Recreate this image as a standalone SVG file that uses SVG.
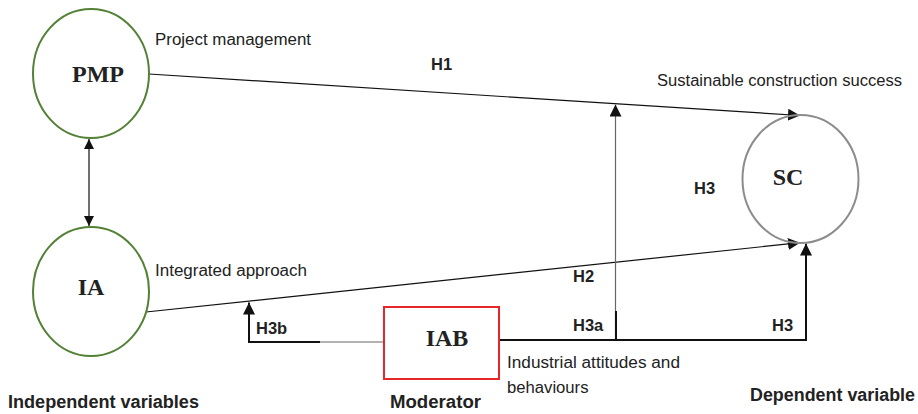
<svg xmlns="http://www.w3.org/2000/svg" width="918" height="414" viewBox="0 0 918 414">
<style>
.g{fill:none;stroke:#538135;stroke-width:2}
.s{fill:none;stroke:#8c8c8c;stroke-width:2}
.r{fill:none;stroke:#e8262a;stroke-width:2}
.n{font-family:"Liberation Serif",serif;font-weight:bold;font-size:24px;fill:#222;text-anchor:middle}
.d{font-family:"Liberation Sans",sans-serif;font-size:16px;fill:#222}
.h{font-family:"Liberation Sans",sans-serif;font-size:16.5px;font-weight:bold;fill:#222}
.b{font-family:"Liberation Sans",sans-serif;font-size:18px;font-weight:bold;fill:#222}
.l{fill:none;stroke:#111;stroke-width:1.2}
.k{fill:none;stroke:#111;stroke-width:2}
.v{fill:none;stroke:#666;stroke-width:1.2}
</style>
<defs>
<marker id="a" viewBox="0 0 10 10" refX="10" refY="5" markerWidth="10" markerHeight="10" markerUnits="userSpaceOnUse" orient="auto-start-reverse">
<path d="M0,0 L10,5 L0,10 z" fill="#111"/>
</marker>
<marker id="a2" viewBox="0 0 10 10" refX="10" refY="5" markerWidth="12" markerHeight="12" markerUnits="userSpaceOnUse" orient="auto">
<path d="M0,0 L10,5 L0,10 z" fill="#111"/>
</marker>
</defs>
<g id="connectors">
<line class="l" x1="89" y1="139" x2="89" y2="226" marker-start="url(#a)" marker-end="url(#a)"/>
<line class="l" x1="149" y1="74" x2="800" y2="115.5" marker-end="url(#a2)"/>
<line class="l" x1="146" y1="312" x2="800" y2="242.7" marker-end="url(#a2)"/>
<line class="v" x1="615.5" y1="340" x2="615.5" y2="104.5" marker-end="url(#a2)"/>
<line class="k" x1="616" y1="311" x2="616" y2="341"/>
<polyline class="k" points="320,342 249,342 249,302.5" marker-end="url(#a2)"/>
<line class="v" x1="320" y1="342" x2="384" y2="342"/>
<polyline class="k" points="500,340 806,340 806,243.5" marker-end="url(#a2)"/>
</g>
<g id="PMP">
<ellipse class="g" cx="91" cy="73.5" rx="58" ry="64.5"/>
<text class="n" x="98" y="82">PMP</text>
<text class="d" x="155" y="45" textLength="156" lengthAdjust="spacingAndGlyphs">Project management</text>
</g>
<g id="IA">
<ellipse class="g" cx="91" cy="291.5" rx="58" ry="64.5"/>
<text class="n" x="91" y="295">IA</text>
<text class="d" x="155" y="276" textLength="152" lengthAdjust="spacingAndGlyphs">Integrated approach</text>
</g>
<g id="SC">
<ellipse class="s" cx="800.5" cy="179" rx="58" ry="64"/>
<text class="n" x="788" y="185">SC</text>
<text class="d" x="657" y="86" textLength="245" lengthAdjust="spacingAndGlyphs">Sustainable construction success</text>
</g>
<g id="IAB">
<rect class="r" x="384" y="307" width="115" height="72"/>
<text class="n" x="447" y="345.5">IAB</text>
<text class="d" x="507" y="368" textLength="173" lengthAdjust="spacingAndGlyphs">Industrial attitudes and</text>
<text class="d" x="507" y="392.5" textLength="81.5" lengthAdjust="spacingAndGlyphs">behaviours</text>
</g>
<g id="labels">
<text class="h" x="431" y="70">H1</text>
<text class="h" x="694" y="194">H3</text>
<text class="h" x="573" y="282">H2</text>
<text class="h" x="256" y="334">H3b</text>
<text class="h" x="573" y="331">H3a</text>
<text class="h" x="772" y="331">H3</text>
<text class="b" x="8" y="408" textLength="191" lengthAdjust="spacingAndGlyphs">Independent variables</text>
<text class="b" x="390" y="408" textLength="91" lengthAdjust="spacingAndGlyphs">Moderator</text>
<text class="b" x="750" y="401" textLength="165" lengthAdjust="spacingAndGlyphs">Dependent variable</text>
</g>
</svg>
